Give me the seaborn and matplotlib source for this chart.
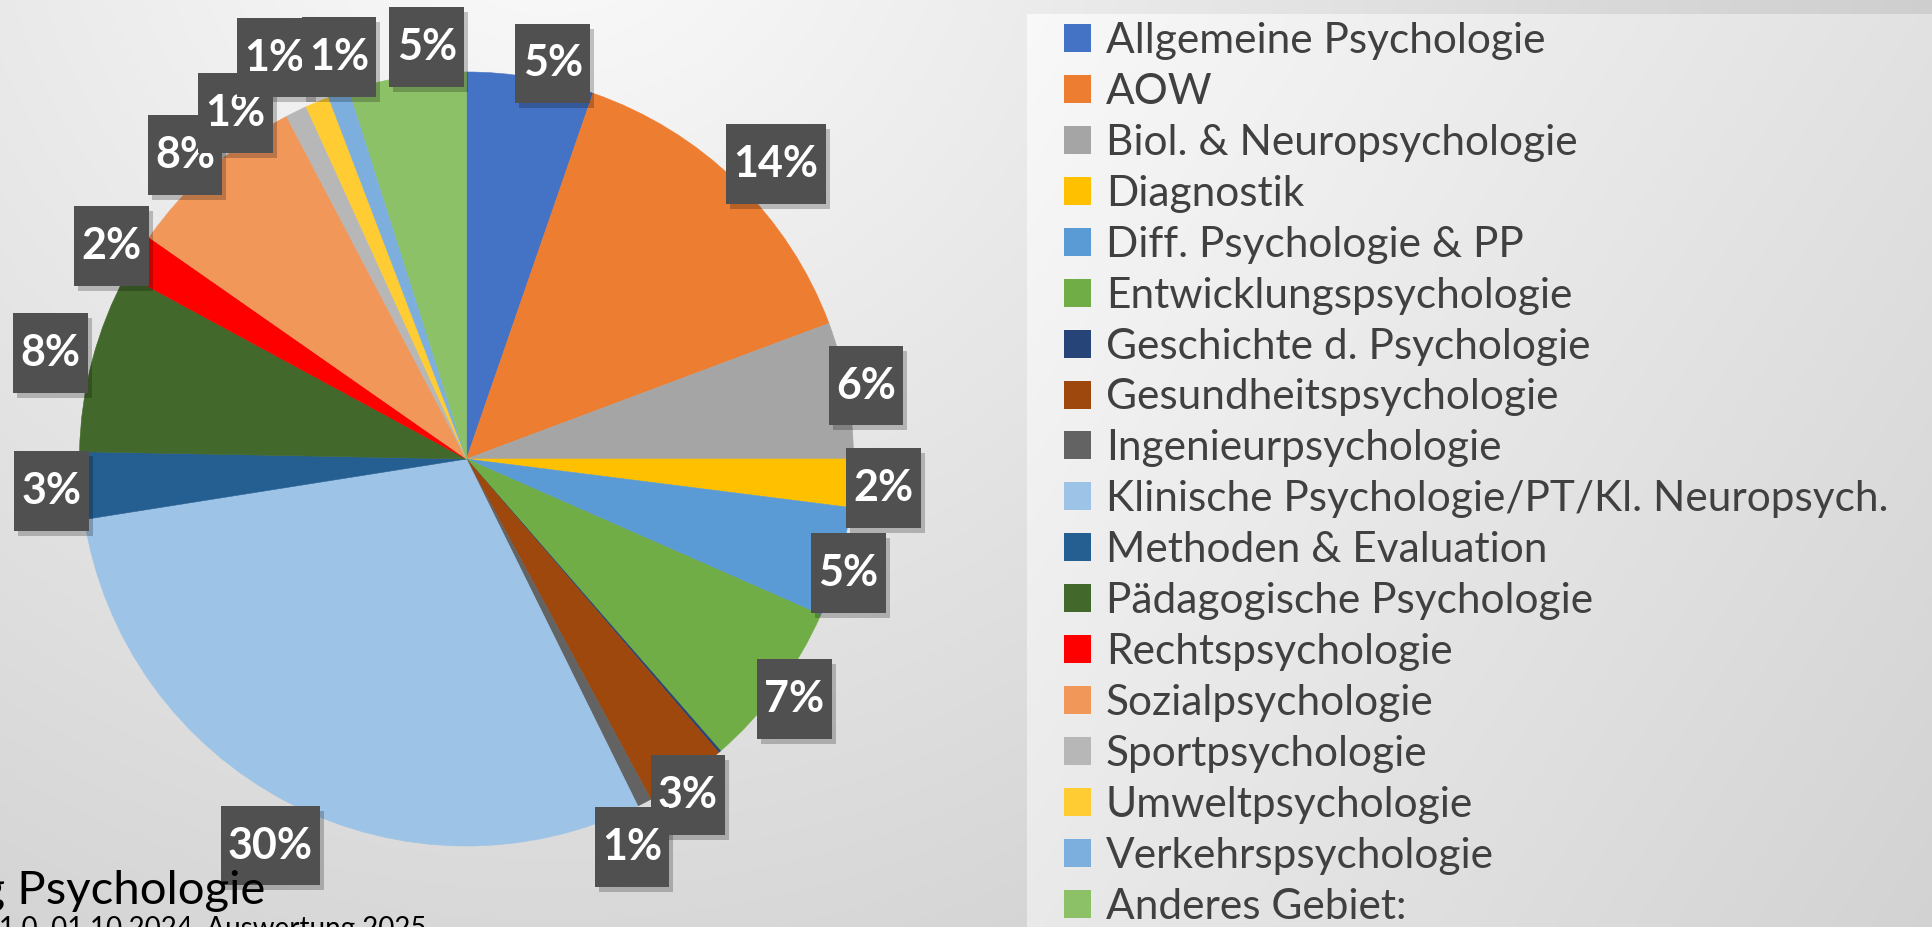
import numpy as np
import matplotlib
matplotlib.use("Agg")
import matplotlib.pyplot as plt
import seaborn as sns
from matplotlib.patches import Patch
from matplotlib.path import Path
from matplotlib import transforms

# ---------------- data ----------------
categories = [
    "Allgemeine Psychologie", "AOW", "Biol. & Neuropsychologie", "Diagnostik",
    "Diff. Psychologie & PP", "Entwicklungspsychologie", "Geschichte d. Psychologie",
    "Gesundheitspsychologie", "Ingenieurpsychologie",
    "Klinische Psychologie/PT/Kl. Neuropsych.", "Methoden & Evaluation",
    "Pädagogische Psychologie", "Rechtspsychologie", "Sozialpsychologie",
    "Sportpsychologie", "Umweltpsychologie", "Verkehrspsychologie", "Anderes Gebiet:",
]
shares = [5.3, 14.0, 5.7, 2.0, 4.6, 7.0, 0.1, 3.4, 0.6, 29.8, 2.8, 7.6, 1.8, 7.6,
          0.9, 1.0, 0.9, 4.9]
colors = ["#4472C4", "#ED7D31", "#A5A5A5", "#FFC000", "#5B9BD5", "#70AD47",
          "#264478", "#9E480E", "#636363", "#9DC3E6", "#255E91", "#43682B",
          "#FF0000", "#F1975A", "#B7B7B7", "#FFCD33", "#7CAFDD", "#8CC168"]
title_text = "Befragung Psychologie"
subtitle_text = "Version 1.0, 01.10.2024, Auswertung 2025"

# label placement (degrees clockwise from 12 o'clock, radius in pie radii)
label_angle = [12.3, 46.4, 79.6, 94.0, 106.6, 126.2, 140.0, 146.6, 156.9, 206.9,
               265.6, 284.3, 301.0, 317.2, 326.3, 334.4, 342.4, 354.5]
label_radius = [1.046, 1.105, 1.05, 1.08, 1.03, 1.05, 1.05, 1.04, 1.09, 1.12,
                1.076, 1.11, 1.07, 1.07, 1.075, 1.15, 1.09, 1.07]

# ---------------- style ----------------
sns.set_theme(style="white")
plt.rcParams["font.family"] = ["Lato", "DejaVu Sans"]

W, H = 1933, 927
fig = plt.figure(figsize=(W / 100, H / 100), dpi=100)

# background (slide gradient + legend panel)
bg = fig.add_axes([0, 0, 1, 1])
bg.set_axis_off()
yy, xx = np.mgrid[0:H, 0:W]
d = np.hypot(xx - 550, yy + 150)
shade = np.clip(0.99 - 0.13 * d / 1000, 0.76, 1.0)
px0, py0 = 1027, 14
panel = (xx >= px0) & (yy >= py0)
xn = (xx - px0) / (W - px0)
yn = (yy - py0) / (H - py0)
shade = np.where(panel, 0.975 - 0.09 * xn - 0.06 * yn, shade)
bg.imshow(np.dstack([shade] * 3), extent=(0, W, H, 0), aspect="auto",
          interpolation="bilinear")
bg.set_xlim(0, W)
bg.set_ylim(H, 0)

# pie axes: centre (466.5, 459) px, radius 387 px
R = 387
S = 1.3 * R
cx, cy = 466.5, 459
ax = fig.add_axes([(cx - S) / W, (H - cy - S) / H, 2 * S / W, 2 * S / H])
ax.set_facecolor("none")
wedges, _ = ax.pie(shares, colors=colors, startangle=90, counterclock=False,
                   radius=1.0, wedgeprops=dict(linewidth=0.4))
for w, c in zip(wedges, colors):
    w.set_edgecolor(c)
ax.set_xlim(-1.3, 1.3)
ax.set_ylim(-1.3, 1.3)
ax.set_aspect("auto")
ax.set_axis_off()


def label_box(x0, y0, width, height, mutation_size):
    padx = 0.17 * mutation_size
    pady = 0.46 * mutation_size
    x1, y1 = x0 - padx, y0 - pady
    x2, y2 = x0 + width + padx, y0 + height + pady
    return Path([(x1, y1), (x2, y1), (x2, y2), (x1, y2), (x1, y1)], closed=True)


total = sum(shares)
shadow_tr = transforms.offset_copy(ax.transData, fig=fig, x=4, y=-5, units="dots")
for i, v in enumerate(shares):
    pct = v / total * 100
    txt = f"{pct:.0f}%"
    if txt == "0%":
        continue
    th = np.deg2rad(label_angle[i])
    x = label_radius[i] * np.sin(th)
    y = label_radius[i] * np.cos(th)
    ax.text(x, y, txt, ha="center", va="center", fontsize=31, fontweight="bold",
            color="none", transform=shadow_tr, zorder=4,
            bbox=dict(boxstyle=label_box, fc="black", ec="none", alpha=0.22))
    ax.text(x, y, txt, ha="center", va="center", fontsize=31, fontweight="bold",
            color="white", zorder=5,
            bbox=dict(boxstyle=label_box, fc="#505050", ec="none"))

# legend
handles = [Patch(facecolor=c, edgecolor="none") for c in colors]
fig.legend(handles, categories, loc="upper left",
           bbox_to_anchor=(1064 / W, 1 - 22 / H), frameon=False,
           fontsize=30.5, labelcolor="#404040", handlelength=0.64,
           handleheight=0.64, handletextpad=0.35, labelspacing=0.305,
           borderpad=0, borderaxespad=0)

# bottom texts (partly cut at figure edge like the reference)
fig.text(265 / W, 1 - 904 / H, title_text, ha="right", va="baseline",
         fontsize=34, color="black")
fig.text(427 / W, 1 - 937 / H, subtitle_text, ha="right", va="baseline",
         fontsize=20, color="black")

fig.savefig("out.png", dpi=100)
